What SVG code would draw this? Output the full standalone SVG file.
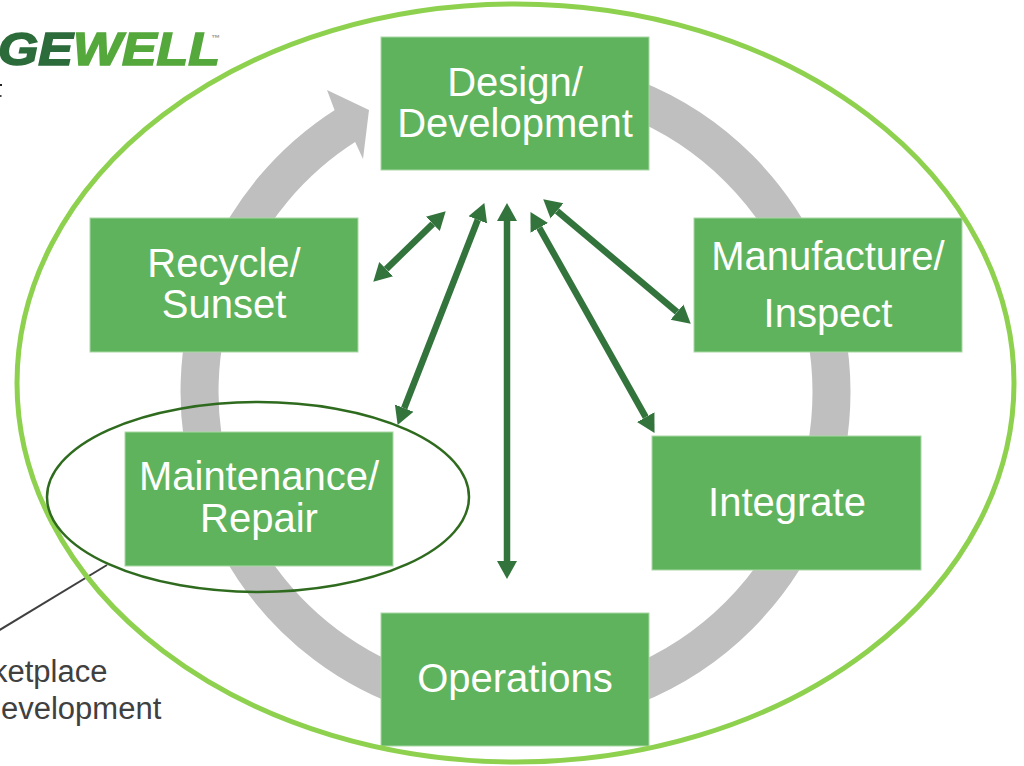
<svg xmlns="http://www.w3.org/2000/svg" width="1024" height="766" viewBox="0 0 1024 766">
<style>
text{font-family:"Liberation Sans",Arial,sans-serif}
.box{fill:#5fb35c;stroke:#a9d8a6;stroke-width:1}
.lbl{fill:#fff;font-size:40px;text-anchor:middle}
.arw{stroke:#33733c;stroke-width:6.5;fill:none;marker-start:url(#h);marker-end:url(#h)}
.cap{fill:#404040;font-size:31px}
</style>
<defs>
<marker id="h" markerUnits="userSpaceOnUse" markerWidth="20" markerHeight="24" refX="0" refY="12" orient="auto-start-reverse" viewBox="0 0 20 24"><path d="M0,2 L18,12 L0,22 Z" fill="#33733c"/></marker>
</defs>
<rect width="1024" height="766" fill="#fff"/>
<g id="logo">
<text x="-2" y="65" font-size="46" font-weight="700" font-style="italic" textLength="222" lengthAdjust="spacingAndGlyphs" stroke-width="1.6"><tspan fill="#2c6b3a" stroke="#2c6b3a">GE</tspan><tspan fill="#55a83c" stroke="#55a83c">WELL</tspan></text>
<text x="211" y="41" font-size="9" font-weight="700" fill="#999">™</text>
<rect x="0" y="84" width="2" height="2" fill="#222"/>
<rect x="0" y="95" width="1.5" height="2" fill="#444"/>
</g>
<g id="cycle">
<path d="M515.5,76 A316,316 0 0 1 515.5,708 A316,316 0 0 1 347.3,124.5" fill="none" stroke="#bfbfbf" stroke-width="38"/>
<path d="M327,90 L369,110 L363,159 L355.4,142.6 L334.8,110.7 Z" fill="#bfbfbf"/>
</g>
<g id="connectors">
<line class="arw" x1="432.8" y1="223.8" x2="386.2" y2="269.2"/>
<line class="arw" x1="477.8" y1="219.8" x2="404.2" y2="408.2"/>
<line class="arw" x1="507" y1="221" x2="507" y2="561"/>
<line class="arw" x1="539.3" y1="227.8" x2="645.7" y2="417.2"/>
<line class="arw" x1="557" y1="210.9" x2="677" y2="312.1"/>
<line x1="-2" y1="631" x2="107" y2="565" stroke="#404040" stroke-width="2"/>
</g>
<g id="design"><rect class="box" x="381" y="37" width="268" height="133"/><text class="lbl" x="515" y="96">Design/</text><text class="lbl" x="515" y="137">Development</text></g>
<g id="recycle"><rect class="box" x="90" y="218" width="268" height="134"/><text class="lbl" x="224" y="277">Recycle/</text><text class="lbl" x="224" y="318">Sunset</text></g>
<g id="manufacture"><rect class="box" x="694" y="218" width="268" height="134"/><text class="lbl" x="828" y="270">Manufacture/</text><text class="lbl" x="828" y="327">Inspect</text></g>
<g id="maintenance"><rect class="box" x="125" y="432" width="268" height="134"/><text class="lbl" x="259" y="490">Maintenance/</text><text class="lbl" x="259" y="532">Repair</text></g>
<g id="integrate"><rect class="box" x="652" y="436" width="269" height="134"/><text class="lbl" x="787" y="516">Integrate</text></g>
<g id="operations"><rect class="box" x="381" y="613" width="268" height="133"/><text class="lbl" x="515" y="692">Operations</text></g>
<g id="outlines">
<ellipse cx="515.5" cy="383" rx="498.5" ry="379" fill="none" stroke="#8ed14f" stroke-width="5"/>
<ellipse cx="258" cy="497" rx="211" ry="95" fill="none" stroke="#2f6b1e" stroke-width="2.5"/>
</g>
<g id="caption">
<text class="cap" x="-8" y="682">ketplace</text>
<text class="cap" x="1" y="719">evelopment</text>
</g>
</svg>
